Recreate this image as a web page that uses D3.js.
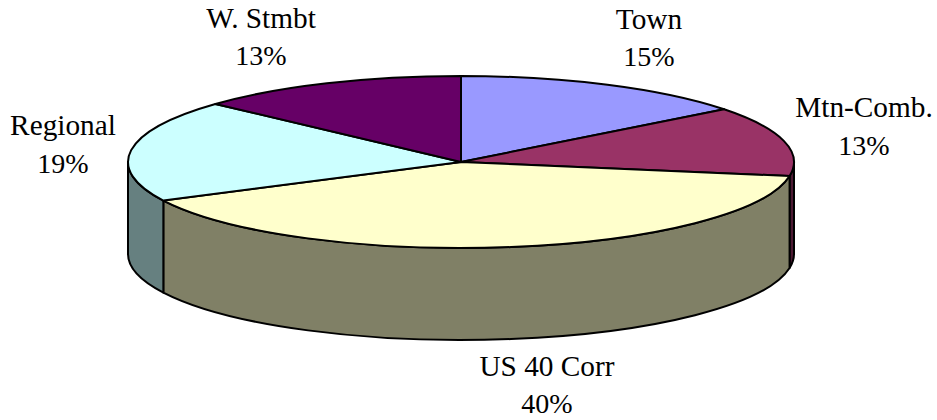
<!DOCTYPE html>
<html>
<head>
<meta charset="utf-8">
<script src="https://cdn.jsdelivr.net/npm/d3@7"></script>
<style>
  html, body { margin: 0; padding: 0; background: #fff; }
  text { font-family: "Liberation Serif", serif; fill: #000; }
  .name { font-size: 29.3px; }
  .share { font-size: 28px; }
</style>
</head>
<body>
<div id="chart"></div>
<script>
// データ（上から時計回り）
const categories = ['Town', 'Mtn-Comb.', 'US 40 Corr', 'Regional', 'W. Stmbt'];
const shares = [14.5, 13.1, 40.0, 19.2, 13.2];
const shareLabels = ['15%', '13%', '40%', '19%', '13%'];
const topColors = ['#9999ff', '#993366', '#ffffcc', '#ccffff', '#660066'];
const sideColors = ['#4d4d80', '#4d1a33', '#808066', '#668080', '#330033'];

const width = 937, height = 420;
const cx = 461, cy = 162, rx = 333, ry = 86, depth = 92;

// ラベル位置（中心x, 1行目ベースライン, 2行目ベースライン）
const labelPos = [
    [649, 29, 66],
    [864, 117, 155],
    [547, 376, 413],
    [63, 135, 173],
    [261, 28, 65]
];

const svg = d3.select('#chart').append('svg')
    .attr('width', width)
    .attr('height', height)
    .style('display', 'block');

const slices = d3.pie().sort(null).value(d => d)(shares);

// 楕円上の点
const px = a => cx + rx * Math.sin(a);
const py = a => cy - ry * Math.cos(a);

// 側面（手前側 90°〜270° のみ見える）
const sideGroup = svg.append('g');
slices.forEach((s, i) => {
    const a0 = Math.max(s.startAngle, Math.PI / 2);
    const a1 = Math.min(s.endAngle, Math.PI * 1.5);
    if (a1 <= a0) return;
    const large = a1 - a0 > Math.PI ? 1 : 0;
    const d = `M${px(a0)},${py(a0)}`
        + `A${rx},${ry} 0 ${large} 1 ${px(a1)},${py(a1)}`
        + `L${px(a1)},${py(a1) + depth}`
        + `A${rx},${ry} 0 ${large} 0 ${px(a0)},${py(a0) + depth}Z`;
    sideGroup.append('path')
        .attr('d', d)
        .attr('fill', sideColors[i])
        .attr('stroke', '#000')
        .attr('stroke-width', 2)
        .attr('stroke-linejoin', 'round');
});

// 上面：d3.arc の円を縦に潰す
const arc = d3.arc().innerRadius(0).outerRadius(rx);
svg.append('g')
    .attr('transform', `translate(${cx},${cy}) scale(1,${ry / rx})`)
    .selectAll('path')
    .data(slices)
    .enter().append('path')
    .attr('d', arc)
    .attr('fill', (d, i) => topColors[i])
    .attr('stroke', '#000')
    .attr('stroke-width', 2)
    .attr('stroke-linejoin', 'round')
    .attr('vector-effect', 'non-scaling-stroke');

// ラベル
categories.forEach((name, i) => {
    const [x, y1, y2] = labelPos[i];
    svg.append('text').attr('class', 'name').attr('x', x).attr('y', y1).attr('text-anchor', 'middle').text(name);
    svg.append('text').attr('class', 'share').attr('x', x).attr('y', y2).attr('text-anchor', 'middle').text(shareLabels[i]);
});
</script>
</body>
</html>
